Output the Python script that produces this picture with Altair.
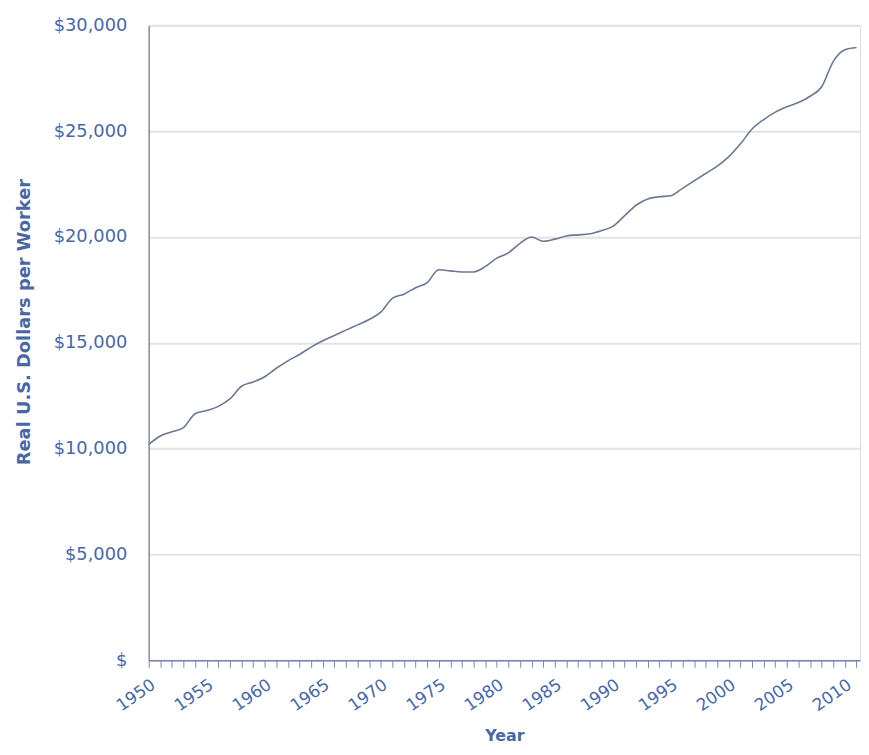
import altair as alt
import pandas as pd

years = list(range(1950, 2012))
output_thousands = [
    10.2, 10.6, 10.8, 11.0, 11.65, 11.8, 12.0, 12.35, 12.95, 13.15,
    13.4, 13.8, 14.15, 14.45, 14.8, 15.1, 15.35, 15.6, 15.85, 16.1,
    16.45, 17.1, 17.3, 17.6, 17.85, 18.45, 18.4, 18.35, 18.35, 18.6,
    19.0, 19.25, 19.7, 20.0, 19.8, 19.9, 20.05, 20.1, 20.15, 20.3,
    20.5, 21.0, 21.5, 21.8, 21.9, 21.95, 22.3, 22.65, 23.0, 23.35,
    23.8, 24.4, 25.1, 25.55, 25.9, 26.15, 26.35, 26.65, 27.1, 28.3,
    28.85, 28.95,
]
y_ticks = [0, 5000, 10000, 15000, 20000, 25000, 30000]

df = pd.DataFrame({"Year": years, "Value": [v * 1000 for v in output_thousands]})

TEXT = "#4a67a3"
FONT = "DejaVu Sans"

chart = (
    alt.Chart(df)
    .mark_line(color="#6b7891", strokeWidth=1.6, interpolate="monotone")
    .encode(
        x=alt.X(
            "Year:Q",
            scale=alt.Scale(domain=[1950, 2011.3], nice=False, zero=False),
            axis=alt.Axis(
                title="Year",
                values=years,
                labelExpr="datum.value % 5 == 0 ? format(datum.value, 'd') : ''",
                labelAngle=-35,
                labelAlign="right",
                labelBaseline="top",
                labelOverlap=False,
                labelFlush=False,
                labelFont=FONT,
                labelFontSize=17,
                labelColor=TEXT,
                labelPadding=9,
                tickSize=7,
                tickColor="#7886b3",
                domainColor="#7886b3",
                domainWidth=1.5,
                grid=False,
                titleFont=FONT,
                titleFontSize=16,
                titleFontWeight="bold",
                titleColor=TEXT,
                titlePadding=14,
            ),
        ),
        y=alt.Y(
            "Value:Q",
            scale=alt.Scale(domain=[0, 30000], nice=False),
            axis=alt.Axis(
                title="Real U.S. Dollars per Worker",
                values=y_ticks,
                labelExpr="datum.value == 0 ? '$' : '$' + format(datum.value, ',')",
                labelFont=FONT,
                labelFontSize=18,
                labelColor=TEXT,
                labelPadding=22,
                ticks=False,
                domainColor="#8a8e96",
                domainWidth=1.5,
                grid=True,
                gridColor="#e2e2e2",
                gridWidth=2,
                titleFont=FONT,
                titleFontSize=18,
                titleFontWeight="bold",
                titleColor=TEXT,
                titlePadding=20,
                titleY=299,
                titleAlign="center",
                titleAngle=-90,
            ),
        ),
    )
    .properties(
        width=718,
        height=641,
        autosize=alt.AutoSizeParams(type="none"),
        padding={"left": 142, "top": 14, "right": 1, "bottom": 88},
    )
    .configure_view(stroke=None)
    .configure(background="white")
)

chart.save("out.html", embed_options={"renderer": "svg", "actions": False})
